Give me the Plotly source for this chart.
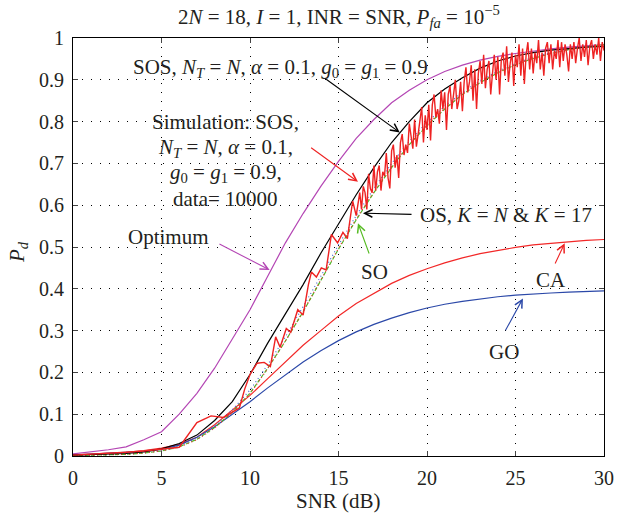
import numpy as np
import plotly.graph_objects as go

# ---------------- data ----------------
snr = list(range(0, 31))

optimum = [0.005, 0.010, 0.015, 0.022, 0.039, 0.058, 0.100, 0.150, 0.210, 0.280,
           0.350, 0.430, 0.510, 0.580, 0.645, 0.705, 0.760, 0.805, 0.845, 0.875,
           0.900, 0.920, 0.935, 0.947, 0.956, 0.963, 0.969, 0.974, 0.978, 0.981, 0.984]

sos = [0.002, 0.003, 0.004, 0.006, 0.010, 0.017, 0.030, 0.050, 0.085, 0.130,
       0.195, 0.270, 0.340, 0.410, 0.485, 0.555, 0.625, 0.690, 0.750, 0.800,
       0.845, 0.878, 0.905, 0.928, 0.945, 0.957, 0.965, 0.971, 0.975, 0.978, 0.980]

so = [0.001, 0.002, 0.003, 0.004, 0.007, 0.012, 0.022, 0.040, 0.068, 0.105,
      0.150, 0.210, 0.275, 0.345, 0.420, 0.495, 0.565, 0.630, 0.690, 0.745,
      0.790, 0.830, 0.865, 0.893, 0.917, 0.936, 0.951, 0.963, 0.972, 0.979, 0.984]

os_kn = [0.001, 0.002, 0.003, 0.005, 0.008, 0.013, 0.024, 0.043, 0.072, 0.110,
         0.158, 0.218, 0.285, 0.356, 0.430, 0.505, 0.575, 0.640, 0.700, 0.753,
         0.798, 0.837, 0.870, 0.898, 0.921, 0.939, 0.954, 0.965, 0.974, 0.980, 0.985]

os_k17 = [0.001, 0.002, 0.003, 0.004, 0.007, 0.012, 0.021, 0.039, 0.067, 0.104,
          0.149, 0.209, 0.275, 0.346, 0.421, 0.497, 0.567, 0.632, 0.692, 0.746,
          0.792, 0.832, 0.866, 0.894, 0.918, 0.937, 0.952, 0.963, 0.972, 0.979, 0.984]

ca = [0.003, 0.005, 0.007, 0.009, 0.013, 0.019, 0.028, 0.045, 0.075, 0.110,
      0.145, 0.185, 0.225, 0.265, 0.300, 0.335, 0.365, 0.390, 0.413, 0.432,
      0.448, 0.462, 0.474, 0.484, 0.492, 0.499, 0.505, 0.509, 0.513, 0.516, 0.518]

go_ = [0.002, 0.004, 0.006, 0.008, 0.011, 0.016, 0.026, 0.045, 0.070, 0.100,
       0.130, 0.163, 0.195, 0.225, 0.252, 0.276, 0.297, 0.315, 0.330, 0.343,
       0.354, 0.363, 0.370, 0.376, 0.381, 0.385, 0.388, 0.390, 0.392, 0.394, 0.395]

# Monte-Carlo simulation
sim_x_low = [0, 1, 2, 3, 4, 5, 6, 7, 7.8, 8.5, 9, 9.4, 9.7, 10.0, 10.4, 10.8, 11.15,
             11.45, 11.7, 12.05, 12.3, 12.7, 13.0, 13.3, 13.47, 13.75, 14.03, 14.3,
             14.6, 14.95, 15.25, 15.5, 15.8, 16.0, 16.2]
sim_y_low = [0.002, 0.004, 0.006, 0.009, 0.012, 0.016, 0.021, 0.080, 0.096, 0.092, 0.105,
             0.115, 0.160, 0.195, 0.222, 0.224, 0.214, 0.285, 0.260, 0.305, 0.296, 0.350,
             0.337, 0.410, 0.440, 0.428, 0.450, 0.445, 0.530, 0.510, 0.535, 0.520, 0.610,
             0.575, 0.630]
sim_x_high = list(np.round(np.arange(16.3, 30.05, 0.1), 1))   # 0.1 dB sampling grid
sim_y_high = [
    0.590, 0.645, 0.630, 0.590, 0.675, 0.640, 0.630, 0.695, 0.635, 0.680,
    0.695, 0.635, 0.680, 0.670, 0.725, 0.665, 0.640, 0.730, 0.745, 0.690,
    0.720, 0.665, 0.750, 0.770, 0.720, 0.745, 0.725, 0.795, 0.765, 0.735,
    0.805, 0.740, 0.770, 0.810, 0.835, 0.750, 0.815, 0.780, 0.840, 0.755,
    0.840, 0.865, 0.810, 0.830, 0.795, 0.875, 0.830, 0.870, 0.780, 0.865,
    0.885, 0.830, 0.865, 0.900, 0.830, 0.850, 0.895, 0.825, 0.895, 0.930,
    0.870, 0.895, 0.935, 0.850, 0.925, 0.830, 0.915, 0.945, 0.890, 0.960,
    0.880, 0.925, 0.945, 0.865, 0.915, 0.960, 0.900, 0.955, 0.865, 0.950,
    0.965, 0.910, 0.980, 0.895, 0.940, 0.965, 0.885, 0.960, 0.930, 0.985,
    0.910, 0.975, 0.890, 0.960, 0.990, 0.925, 0.975, 0.915, 0.965, 0.940,
    0.995, 0.925, 0.965, 0.910, 0.975, 0.990, 0.940, 0.985, 0.925, 0.970,
    0.950, 0.995, 0.930, 0.990, 0.945, 0.985, 0.960, 0.920, 0.985, 0.950,
    0.990, 0.940, 0.975, 1.000, 0.945, 0.985, 0.955, 0.995, 0.935, 0.980,
    0.995, 0.950, 0.985, 0.960, 1.000, 0.945, 0.990, 0.970]
sim_x = sim_x_low + sim_x_high
sim_y = sim_y_low + sim_y_high[:len(sim_x_high)]

x_ticks = [0, 5, 10, 15, 20, 25, 30]
y_ticks = [0, 0.1, 0.2, 0.3, 0.4, 0.5, 0.6, 0.7, 0.8, 0.9, 1]
y_tick_text = ["0", "0.1", "0.2", "0.3", "0.4", "0.5", "0.6", "0.7", "0.8", "0.9", "1"]

# ---------------- figure ----------------
FONT = "Liberation Serif"
TXT = "#231f20"
FS = 21
fig = go.Figure()

def add(x, y, color, width=1.2, dash="solid"):
    fig.add_trace(go.Scatter(x=x, y=y, mode="lines",
                             line=dict(color=color, width=width, dash=dash),
                             showlegend=False, hoverinfo="skip"))

add(snr, optimum, "#b446b4")
add(snr, ca, "#f22828")
add(snr, go_, "#2b48a8")
add(snr, so, "#4fb828", dash="4px,2px")
add(snr, os_kn, "#4a6ad0", dash="1px,3px")
add(snr, os_k17, "#e83030", dash="1px,3px")
add(snr, sos, "#000000")
add(sim_x, sim_y, "#ee2222", width=1.4)

ann = []
def text(x, y, t, size=FS):
    ann.append(dict(x=x, y=y, xref="x", yref="y", text=t, showarrow=False,
                    font=dict(family=FONT, size=size, color=TXT),
                    xanchor="center", yanchor="middle"))

def arrow(hx, hy, tx, ty, color):
    ann.append(dict(x=hx, y=hy, ax=tx, ay=ty, xref="x", yref="y", axref="x", ayref="y",
                    text="", showarrow=True, arrowhead=5, arrowsize=1.4,
                    arrowwidth=1.1, arrowcolor=color, standoff=0, startstandoff=0))

text(11.71, 0.928, "SOS, <i>N</i><sub><i>T</i></sub> = <i>N</i>, <i>α</i> = 0.1, "
                   "<i>g</i><sub>0</sub> = <i>g</i><sub>1</sub> = 0.9")
text(8.62, 0.800, "Simulation: SOS,")
text(8.62, 0.738, "<i>N</i><sub><i>T</i></sub> = <i>N</i>, <i>α</i> = 0.1,")
text(8.62, 0.677, "<i>g</i><sub>0</sub> = <i>g</i><sub>1</sub> = 0.9,")
text(8.62, 0.616, "data= 10000")
text(5.42, 0.525, "Optimum")
text(24.49, 0.577, "OS, <i>K</i> = <i>N</i> &amp; <i>K</i> = 17")
text(17.05, 0.441, "SO")
text(27.03, 0.421, "CA")
text(24.33, 0.249, "GO")

arrow(18.46, 0.774, 14.22, 0.904, "#000000")
arrow(16.10, 0.656, 13.37, 0.740, "#ee2222")
arrow(16.38, 0.581, 19.21, 0.578, "#000000")
arrow(16.10, 0.557, 16.76, 0.481, "#55bb22")
arrow(11.11, 0.445, 8.19, 0.509, "#b446b4")
arrow(27.78, 0.509, 27.20, 0.457, "#ee2222")
arrow(25.42, 0.377, 24.39, 0.297, "#2b48a8")

W, H = 617, 518
L, R, T, B = 73, 13, 38, 62
pw, ph = W - L - R, H - T - B

# title and axis titles (pixel positions converted to paper coordinates)
ann.append(dict(x=0.5, y=(H - B - 17) / ph, xref="paper", yref="paper", showarrow=False,
                text="2<i>N</i> = 18, <i>I</i> = 1, INR = SNR, <i>P</i><sub><i>fa</i></sub> = 10<sup>−5</sup>",
                font=dict(family=FONT, size=FS, color=TXT), xanchor="center", yanchor="middle"))
ann.append(dict(x=0.5, y=(H - B - 501) / ph, xref="paper", yref="paper", showarrow=False,
                text="SNR (dB)", font=dict(family=FONT, size=FS, color=TXT),
                xanchor="center", yanchor="middle"))
ann.append(dict(x=(18 - L) / pw, y=(H - B - 252) / ph, xref="paper", yref="paper",
                showarrow=False, text="<i>P</i><sub><i>d</i></sub>", textangle=-90,
                font=dict(family=FONT, size=FS, color=TXT),
                xanchor="center", yanchor="middle"))

axis_common = dict(ticks="inside", ticklen=5, showline=True, linecolor="black",
                   linewidth=1, mirror="ticks", showgrid=True, gridcolor="black",
                   gridwidth=1, griddash="1px,8px", zeroline=False,
                   tickfont=dict(family=FONT, size=20, color=TXT), ticklabelstandoff=4)

fig.update_layout(
    width=W, height=H, margin=dict(l=L, r=R, t=T, b=B, autoexpand=False),
    paper_bgcolor="white", plot_bgcolor="white",
    annotations=ann,
    xaxis=dict(range=[0, 30], tickvals=x_ticks, **axis_common),
    yaxis=dict(range=[0, 1], tickvals=y_ticks, ticktext=y_tick_text, **axis_common),
)

fig.write_html("out.html")
